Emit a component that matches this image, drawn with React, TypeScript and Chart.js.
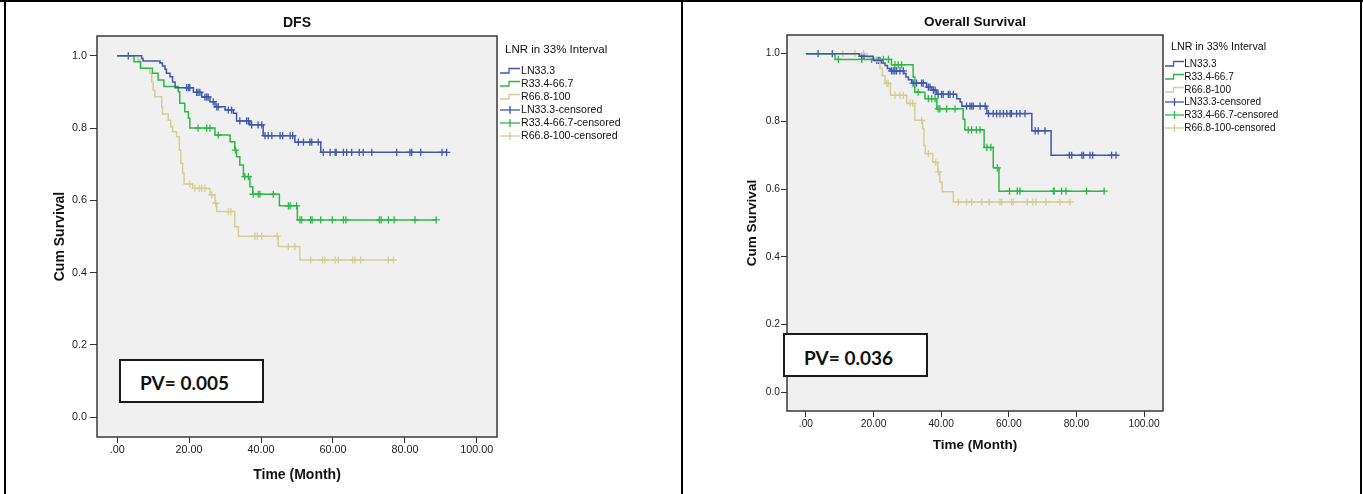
import React, { useEffect, useRef } from 'react';
import { Chart, registerables } from 'chart.js';

Chart.register(...registerables);

// ---------- shared axis data ----------
const xTicks = [0, 20, 40, 60, 80, 100];
const xTickLabels = ['.00', '20.00', '40.00', '60.00', '80.00', '100.00'];
const yTicks = [0, 0.2, 0.4, 0.6, 0.8, 1.0];
const yTickLabels = ['0.0', '0.2', '0.4', '0.6', '0.8', '1.0'];
const groupNames = ['LN33.3', 'R33.4-66.7', 'R66.8-100'];
const censorNames = ['LN33.3-censored', 'R33.4-66.7-censored', 'R66.8-100-censored'];
const groupColors = ['#3E58AC', '#2EB848', '#D3CE97'];
const legendTitle = 'LNR in 33% Interval';

// ---------- DFS panel ----------
const dfsBlueTimes = [0, 6.8, 7.2, 11.9, 12.6, 13.3, 13.7, 14.7, 15.4, 16.1, 21.2, 23.5, 25.8, 27.2, 30.0, 32.3, 33.2, 36.9, 40.6, 49.4, 56.6];
const dfsBlueSurv = [1, 0.993, 0.986, 0.98, 0.972, 0.963, 0.952, 0.942, 0.928, 0.912, 0.899, 0.886, 0.873, 0.859, 0.85, 0.841, 0.82, 0.809, 0.779, 0.761, 0.733];
const dfsBlueCensor = [3.1, 19.3, 19.8, 20.2, 22.1, 22.5, 23.0, 24.4, 24.9, 25.3, 26.7, 27.7, 28.1, 30.9, 31.8, 34.1, 36.0, 36.5, 37.4, 39.2, 40.2, 41.1, 42.0, 43.0, 45.3, 46.0, 48.1, 48.8, 50.4, 51.8, 53.6, 54.1, 55.9, 57.3, 59.2, 60.6, 60.9, 62.9, 63.8, 65.2, 67.3, 68.4, 70.8, 77.7, 81.4, 81.9, 84.4, 90.3, 91.6];

const dfsGreenTimes = [0, 4.7, 6.5, 9.8, 11.4, 13.0, 17.0, 17.4, 18.8, 19.8, 20.2, 27.2, 31.4, 32.7, 33.2, 34.1, 35.1, 36.9, 37.7, 45.1, 50.1];
const dfsGreenSurv = [1, 0.984, 0.966, 0.952, 0.933, 0.915, 0.901, 0.869, 0.845, 0.827, 0.8, 0.781, 0.762, 0.739, 0.721, 0.698, 0.666, 0.638, 0.617, 0.585, 0.546];
const dfsGreenCensor = [22.5, 24.9, 25.8, 28.1, 32.9, 35.5, 36.5, 37.8, 39.2, 39.7, 43.4, 47.6, 48.1, 49.9, 50.8, 51.3, 53.8, 54.2, 56.6, 59.8, 62.9, 63.6, 72.9, 73.4, 75.4, 77.0, 82.8, 88.7];

const dfsTanTimes = [0, 5.8, 6.5, 9.1, 9.6, 10.0, 10.5, 12.4, 12.6, 14.2, 14.9, 15.4, 16.5, 17.3, 17.7, 18.2, 18.6, 21.0, 25.8, 27.2, 27.7, 32.7, 33.7, 44.8, 50.8];
const dfsTanSurv = [1, 0.988, 0.966, 0.952, 0.928, 0.905, 0.887, 0.859, 0.839, 0.822, 0.804, 0.79, 0.776, 0.739, 0.703, 0.675, 0.645, 0.633, 0.615, 0.592, 0.569, 0.527, 0.501, 0.472, 0.435];
const dfsTanCensor = [20.2, 21.6, 22.8, 23.5, 24.4, 26.3, 27.4, 30.9, 31.6, 38.3, 39.0, 40.2, 44.5, 47.6, 49.4, 53.8, 57.1, 57.8, 60.6, 61.5, 65.5, 66.1, 67.7, 75.4, 76.8];

// ---------- Overall Survival panel ----------
const osBlueTimes = [0, 15.8, 19.9, 22.4, 23.4, 24.1, 24.9, 29.0, 29.6, 30.3, 31.3, 35.7, 37.2, 38.7, 44.6, 45.6, 46.1, 53.5, 66.8, 72.5];
const osBlueSurv = [1, 0.992, 0.98, 0.972, 0.965, 0.956, 0.949, 0.941, 0.931, 0.923, 0.913, 0.901, 0.892, 0.88, 0.867, 0.857, 0.845, 0.823, 0.772, 0.7];
const osBlueCensor = [3.6, 7.8, 16.5, 17.2, 20.9, 21.4, 21.9, 25.3, 25.8, 26.3, 26.8, 27.8, 28.8, 31.7, 32.7, 34.2, 34.7, 36.2, 36.7, 37.7, 38.2, 39.1, 40.1, 40.6, 42.1, 42.6, 43.6, 47.5, 48.5, 49.0, 49.5, 51.5, 53.0, 54.0, 55.4, 56.4, 57.4, 58.4, 59.4, 60.4, 60.8, 62.3, 63.3, 64.8, 67.8, 68.7, 70.7, 77.9, 78.6, 81.6, 82.1, 84.0, 84.8, 90.4, 91.7];

const osGreenTimes = [0, 8.6, 25.3, 31.7, 32.2, 35.2, 38.7, 46.5, 47.0, 52.7, 55.4, 57.1];
const osGreenSurv = [1, 0.983, 0.967, 0.931, 0.886, 0.867, 0.837, 0.806, 0.775, 0.723, 0.663, 0.594];
const osGreenCensor = [9.6, 16.5, 19.4, 22.9, 24.4, 26.3, 27.3, 28.3, 33.2, 36.2, 37.2, 38.2, 39.1, 39.6, 41.6, 44.1, 48.0, 49.0, 50.4, 51.5, 53.5, 54.7, 56.6, 60.2, 62.5, 63.3, 73.2, 73.4, 75.6, 76.9, 83.0, 88.2];

const osTanTimes = [0, 18.1, 20.9, 21.9, 22.6, 23.4, 25.0, 29.8, 32.2, 34.5, 34.9, 35.3, 37.5, 39.0, 39.6, 40.3, 43.6];
const osTanSurv = [1, 0.988, 0.976, 0.956, 0.935, 0.912, 0.877, 0.853, 0.803, 0.778, 0.729, 0.705, 0.679, 0.651, 0.621, 0.592, 0.562];
const osTanCensor = [10.9, 14.5, 17.0, 23.9, 24.3, 26.3, 27.8, 28.8, 30.8, 31.6, 34.2, 36.2, 38.4, 39.2, 45.1, 47.5, 49.0, 52.0, 54.2, 57.4, 57.9, 60.8, 61.3, 65.5, 67.1, 68.0, 71.0, 75.1, 78.1];

const dfsTitle = 'DFS';
const osTitle = 'Overall Survival';
const dfsPValue = 'PV= 0.005';
const osPValue = 'PV= 0.036';
const xAxisTitle = 'Time (Month)';
const yAxisTitle = 'Cum Survival';

const FONT = '"Liberation Sans", Arial, sans-serif';

type Group = { times: number[]; surv: number[]; censor: number[] };

const survAt = (times: number[], surv: number[], t: number) => {
  let v = surv[0];
  for (let i = 0; i < times.length; i++) if (times[i] <= t) v = surv[i];
  return v;
};

type PanelSpec = {
  left: number;
  width: number;
  height: number;
  groups: Group[];
  pad: { top: number; right: number };
  yWidth: number;
  xHeight: number;
  tickSize: number;
  titleSize: number;
  yTitlePad: number;
  xTitlePad: number;
  yTickLen: number;
  yTickPad: number;
  xTickPad: number;
};

const bgPlugin = {
  id: 'spssBox',
  beforeDatasetsDraw(chart: any) {
    const { ctx, chartArea: a } = chart;
    ctx.save();
    ctx.fillStyle = '#F0F0F0';
    ctx.fillRect(a.left, a.top, a.right - a.left, a.bottom - a.top);
    ctx.restore();
  },
  afterDraw(chart: any) {
    const { ctx, chartArea: a } = chart;
    ctx.save();
    ctx.strokeStyle = '#3a3a3a';
    ctx.lineWidth = 1.5;
    ctx.strokeRect(a.left, a.top, a.right - a.left, a.bottom - a.top);
    ctx.restore();
  },
};

function KMChart({ spec }: { spec: PanelSpec }) {
  const ref = useRef<HTMLCanvasElement>(null);
  useEffect(() => {
    const datasets: any[] = [];
    spec.groups.forEach((g, i) => {
      const pts = g.times.map((t, k) => ({ x: t, y: g.surv[k] }));
      const end = Math.max(g.times[g.times.length - 1], ...g.censor);
      pts.push({ x: end, y: g.surv[g.surv.length - 1] });
      datasets.push({
        label: groupNames[i],
        data: pts,
        showLine: true,
        stepped: true,
        borderColor: groupColors[i],
        borderWidth: 1.5,
        pointRadius: 0,
        fill: false,
      });
    });
    spec.groups.forEach((g, i) => {
      datasets.push({
        label: censorNames[i],
        data: g.censor.map((t) => ({ x: t, y: survAt(g.times, g.surv, t) })),
        showLine: false,
        pointStyle: 'cross',
        pointRadius: 3.6,
        pointBorderWidth: 1.3,
        borderColor: groupColors[i],
        backgroundColor: groupColors[i],
      });
    });
    const chart = new Chart(ref.current as HTMLCanvasElement, {
      type: 'scatter',
      data: { datasets },
      plugins: [bgPlugin],
      options: {
        animation: false,
        responsive: false,
        devicePixelRatio: 1,
        layout: { padding: { left: 0, top: spec.pad.top, right: spec.pad.right, bottom: 0 } },
        plugins: { legend: { display: false }, title: { display: false }, tooltip: { enabled: false } },
        scales: {
          x: {
            type: 'linear',
            min: -5.6,
            max: 105.6,
            afterBuildTicks: (s: any) => {
              s.ticks = xTicks.map((v) => ({ value: v }));
            },
            afterFit: (s: any) => {
              s.height = spec.xHeight;
              s.paddingLeft = 0;
              s.paddingRight = 0;
            },
            ticks: {
              autoSkip: false,
              maxRotation: 0,
              padding: spec.xTickPad,
              color: '#222',
              font: { family: FONT, size: spec.tickSize },
              callback: (v: any) => xTickLabels[xTicks.indexOf(Number(v))] ?? '',
            },
            grid: { drawOnChartArea: false, drawTicks: true, tickLength: 6, color: '#333' },
            border: { display: false },
            title: {
              display: true,
              text: xAxisTitle,
              color: '#111',
              font: { family: FONT, size: spec.titleSize, weight: 'bold' },
              padding: { top: 0, bottom: spec.xTitlePad },
            },
          },
          y: {
            type: 'linear',
            min: -0.055,
            max: 1.055,
            afterBuildTicks: (s: any) => {
              s.ticks = yTicks.map((v) => ({ value: v }));
            },
            afterFit: (s: any) => {
              s.width = spec.yWidth;
              s.paddingTop = 0;
              s.paddingBottom = 0;
            },
            ticks: {
              padding: spec.yTickPad,
              color: '#222',
              font: { family: FONT, size: spec.tickSize },
              callback: (v: any) => {
                const idx = yTicks.findIndex((t) => Math.abs(t - Number(v)) < 1e-6);
                return idx >= 0 ? yTickLabels[idx] : '';
              },
            },
            grid: { drawOnChartArea: false, drawTicks: true, tickLength: spec.yTickLen, color: '#333' },
            border: { display: false },
            title: {
              display: true,
              text: yAxisTitle,
              color: '#111',
              font: { family: FONT, size: spec.titleSize, weight: 'bold' },
              padding: { top: spec.yTitlePad, bottom: 0 },
            },
          },
        },
      } as any,
    });
    return () => chart.destroy();
  }, []);
  return (
    <canvas
      ref={ref}
      width={spec.width}
      height={spec.height}
      style={{ position: 'absolute', left: spec.left, top: 0, width: spec.width, height: spec.height }}
    />
  );
}

type LegendSpec = {
  titleX: number;
  titleY: number;
  titleSize: number;
  iconX: number;
  iconW: number;
  textX: number;
  rowY0: number;
  rowStep: number;
  itemSize: number;
};

function Legend({ s }: { s: LegendSpec }) {
  const items = [...groupNames, ...censorNames];
  return (
    <>
      <div
        style={{
          position: 'absolute',
          left: s.titleX,
          top: s.titleY - s.titleSize * 0.6,
          fontFamily: FONT,
          fontSize: s.titleSize,
          lineHeight: `${s.titleSize * 1.2}px`,
          color: '#111',
          whiteSpace: 'nowrap',
        }}
      >
        {legendTitle}
      </div>
      {items.map((label, i) => {
        const cy = s.rowY0 + i * s.rowStep;
        const color = groupColors[i % 3];
        const isStep = i < 3;
        return (
          <React.Fragment key={label}>
            <svg
              width={s.iconW}
              height={12}
              style={{ position: 'absolute', left: s.iconX, top: cy - 6 }}
            >
              {isStep ? (
                <polyline
                  points={`0,8 ${s.iconW * 0.45},8 ${s.iconW * 0.45},3.5 ${s.iconW},3.5`}
                  fill="none"
                  stroke={color}
                  strokeWidth={1.3}
                />
              ) : (
                <>
                  <line x1={0} y1={6} x2={s.iconW} y2={6} stroke={color} strokeWidth={1.3} />
                  <line x1={s.iconW / 2} y1={2} x2={s.iconW / 2} y2={10} stroke={color} strokeWidth={1.3} />
                </>
              )}
            </svg>
            <div
              style={{
                position: 'absolute',
                left: s.textX,
                top: cy - s.itemSize * 0.6,
                fontFamily: FONT,
                fontSize: s.itemSize,
                lineHeight: `${s.itemSize * 1.2}px`,
                color: '#111',
                whiteSpace: 'nowrap',
              }}
            >
              {label}
            </div>
          </React.Fragment>
        );
      })}
    </>
  );
}

function PBox({ x, y, w, h, textX, textY, text }: any) {
  return (
    <>
      <div
        style={{
          position: 'absolute',
          left: x,
          top: y,
          width: w,
          height: h,
          boxSizing: 'border-box',
          border: '2px solid #1a1a1a',
          background: '#fff',
        }}
      />
      <div
        style={{
          position: 'absolute',
          left: textX,
          top: textY - 12,
          fontFamily: 'Lato, "Open Sans", sans-serif',
          fontWeight: 'bold',
          fontSize: 19,
          lineHeight: '24px',
          color: '#111',
          whiteSpace: 'nowrap',
        }}
      >
        {text}
      </div>
    </>
  );
}

function ChartTitle({ cx, cy, size, text }: any) {
  return (
    <div
      style={{
        position: 'absolute',
        left: cx - 150,
        width: 300,
        top: cy - size * 0.6,
        textAlign: 'center',
        fontFamily: FONT,
        fontWeight: 'bold',
        fontSize: size,
        lineHeight: `${size * 1.2}px`,
        color: '#111',
      }}
    >
      {text}
    </div>
  );
}

const leftSpec: PanelSpec = {
  left: 0,
  width: 683,
  height: 494,
  groups: [
    { times: dfsBlueTimes, surv: dfsBlueSurv, censor: dfsBlueCensor },
    { times: dfsGreenTimes, surv: dfsGreenSurv, censor: dfsGreenCensor },
    { times: dfsTanTimes, surv: dfsTanSurv, censor: dfsTanCensor },
  ],
  pad: { top: 36, right: 186 },
  yWidth: 97,
  xHeight: 57,
  tickSize: 10.8,
  titleSize: 14,
  yTitlePad: 51.6,
  xTitlePad: 10.6,
  yTickLen: 7,
  yTickPad: 3,
  xTickPad: 1,
};

const rightSpec: PanelSpec = {
  left: 683,
  width: 680,
  height: 494,
  groups: [
    { times: osBlueTimes, surv: osBlueSurv, censor: osBlueCensor },
    { times: osGreenTimes, surv: osGreenSurv, censor: osGreenCensor },
    { times: osTanTimes, surv: osTanSurv, censor: osTanCensor },
  ],
  pad: { top: 35, right: 200 },
  yWidth: 104,
  xHeight: 83,
  tickSize: 10.2,
  titleSize: 13.5,
  yTitlePad: 60.9,
  xTitlePad: 40.2,
  yTickLen: 6,
  yTickPad: 1,
  xTickPad: 1,
};

const line = (left: number, top: number, width: number, height: number) => (
  <div style={{ position: 'absolute', left, top, width, height, background: '#000' }} />
);

export default function App() {
  return (
    <div style={{ position: 'absolute', left: 0, top: 0, width: 1363, height: 494, background: '#fff', overflow: 'hidden' }}>
      <KMChart spec={leftSpec} />
      <KMChart spec={rightSpec} />
      <ChartTitle cx={297} cy={22} size={14} text={dfsTitle} />
      <ChartTitle cx={975} cy={22} size={13.5} text={osTitle} />
      <Legend
        s={{ titleX: 505, titleY: 50, titleSize: 11.5, iconX: 500, iconW: 20, textX: 521, rowY0: 70.7, rowStep: 13, itemSize: 10.6 }}
      />
      <Legend
        s={{ titleX: 1171, titleY: 46.7, titleSize: 10.7, iconX: 1165, iconW: 19, textX: 1184.3, rowY0: 64.3, rowStep: 12.7, itemSize: 10 }}
      />
      <PBox x={119} y={359} w={145} h={44} textX={140} textY={383} text={dfsPValue} />
      <PBox x={783} y={333} w={145} h={44} textX={804} textY={357.7} text={osPValue} />
      {line(0, 0, 1363, 2)}
      {line(4, 0, 2, 494)}
      {line(681, 0, 2, 494)}
      {line(1360, 0, 2, 494)}
    </div>
  );
}
